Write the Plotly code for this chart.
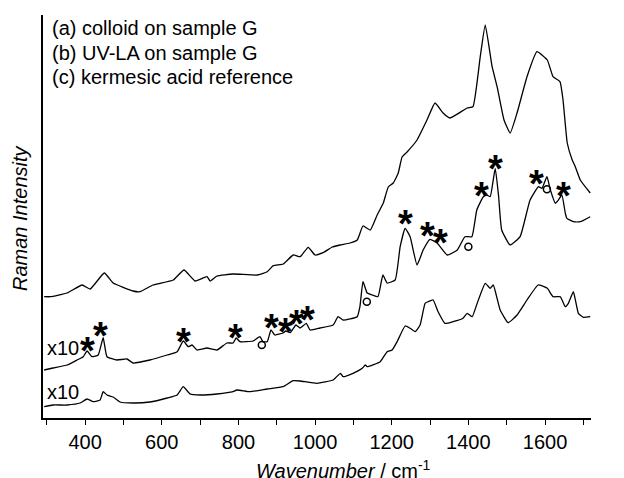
import plotly.graph_objects as go

FONT = "Liberation Sans, Arial, sans-serif"

# ---- spectrum (a): colloid on sample G ----
a_wn = [293, 309, 353, 392, 413, 450, 473, 525, 543, 577, 630, 658, 687, 718, 726, 744, 786, 849,
        875, 891, 917, 943, 961, 982, 1000, 1021, 1045, 1065, 1091, 1110, 1125, 1144, 1162, 1178,
        1191, 1204, 1217, 1227, 1240, 1266, 1292, 1313, 1334, 1352, 1397, 1412, 1431, 1444, 1462,
        1475, 1493, 1509, 1527, 1553, 1579, 1606, 1621, 1639, 1647, 1658, 1671, 1679, 1692, 1718]
a_int = [121.3, 121.3, 125, 133, 129, 145, 135, 127, 126.3, 133, 138, 148, 137, 141.3, 137, 142, 144, 143,
         146.3, 152.3, 154, 163, 161.3, 170.7, 163, 165.3, 171, 173, 175, 178, 192, 188, 203, 215,
         231, 235, 245, 261, 266, 278, 298, 315, 305, 300, 310, 311.3, 361.3, 393, 351.3,
         331.3, 298, 285, 305, 341.3, 366.3, 358, 341.3, 336.3, 318, 275, 258, 251.3, 238, 225]

# ---- spectrum (b): UV-LA on sample G (x10) ----
b_wn = [293, 316, 353, 379, 395, 405, 418, 434, 447, 457, 483, 509, 525, 569, 614, 640, 656, 669, 679,
        692, 718, 744, 770, 786, 794, 804, 838, 856, 864, 875, 885, 895, 916, 924, 935, 950, 961, 977,
        987, 1013, 1047, 1060, 1073, 1110, 1117, 1125, 1136, 1149, 1164, 1177, 1188, 1209, 1222,
        1235, 1248, 1266, 1282, 1300, 1319, 1345, 1371, 1391, 1409, 1422, 1439, 1448, 1457, 1470,
        1479, 1487, 1509, 1535, 1561, 1583, 1592, 1605, 1614, 1627, 1635, 1644, 1653, 1657, 1674,
        1692, 1718]
b_int = [48, 50, 53, 58, 61.3, 67, 61.3, 63, 80.3, 61.3, 58, 59, 55, 58, 63, 66.3, 77, 71.3, 73,
         68, 70, 68, 75, 75, 80, 76.3, 77, 81.3, 76.3, 76.3, 88, 83, 85, 87, 85.3, 93, 90, 94.7,
         88, 90, 93, 101.3, 98, 101.3, 111.3, 136.3, 125, 123, 121.3, 143, 135, 138, 171.3,
         189.7, 181.3, 153, 168, 178.7, 174.7, 163, 168, 181.3, 181.3, 208, 221.3, 223, 221.3, 249.7,
         221.3, 188, 173, 181.3, 218, 231.3, 229.7, 241.3, 228, 214.7, 218, 223, 204.7, 199.7, 196.3,
         196.3, 201.3]

# ---- spectrum (c): kermesic acid reference (x10) ----
c_wn = [293, 316, 353, 387, 405, 421, 439, 447, 457, 473, 491, 525, 569, 614, 640, 656, 674, 700,
        744, 786, 796, 830, 875, 916, 943, 961, 1005, 1047, 1066, 1073, 1099, 1123, 1131, 1136,
        1170, 1188, 1201, 1214, 1235, 1248, 1261, 1274, 1287, 1295, 1308, 1321, 1339, 1360, 1386,
        1397, 1410, 1423, 1444, 1457, 1465, 1483, 1504, 1527, 1553, 1582, 1606, 1621, 1640, 1653,
        1661, 1674, 1687, 1700, 1718]
c_int = [11.3, 13, 13, 15, 19, 16.3, 18, 26.3, 23, 21, 16, 15, 16, 20, 23, 31.3, 24, 23,
         24, 26.3, 28, 26.3, 29, 31.3, 37.3, 37, 34.7, 38, 44.7, 41.3, 44.7, 49.7, 53, 51.3,
         56.3, 66.3, 68, 76.3, 92, 89.7, 86.3, 93, 114.7, 116.3, 118, 106.3, 94.7, 96.3, 99.7,
         104.7, 101.3, 114.7, 134.7, 129.7, 133, 108, 95.3, 103, 118, 133, 129.7, 121.3, 121.3, 111.3,
         114.7, 126.3, 104.7, 100.7, 101.3]

# ---- band markers ----
star_wn = [405, 441, 656, 793, 885, 922, 951, 980, 1235, 1293, 1326, 1435, 1472, 1577, 1647]
star_int = [78, 93, 87.3, 90.7, 100.7, 97.3, 104.7, 108.7, 204.7, 193, 186.3, 233, 259.7, 244.7, 233]
circ_wn = [861, 1135, 1400, 1605]
circ_int = [73, 116.3, 171.3, 228.7]

# ---- text labels ----
legend_lines = ["(a) colloid on sample G", "(b) UV-LA on sample G", "(c) kermesic acid reference"]
legend_int = [390, 365, 341]
curve_labels = ["(a)", "(b)", "(c)"]
curve_label_int = [230, 200, 106.3]
scale_labels = ["x10", "x10"]
scale_label_int = [70, 26.3]

major_ticks = list(range(400, 1601, 200))

fig = go.Figure()
for wn, inten in [(a_wn, a_int), (b_wn, b_int), (c_wn, c_int)]:
    fig.add_trace(go.Scatter(x=wn, y=inten, mode="lines",
                             line=dict(color="black", width=1.3, shape="spline", smoothing=0.4),
                             showlegend=False, hoverinfo="skip"))

fig.add_trace(go.Scatter(x=circ_wn, y=circ_int, mode="markers", showlegend=False,
                         marker=dict(symbol="circle-open", size=7, color="black",
                                     line=dict(width=1.5, color="black"))))

annotations = []
for wn, inten in zip(star_wn, star_int):
    annotations.append(dict(x=wn, y=inten, xref="x", yref="y", text="<b>*</b>", showarrow=False,
                            xanchor="center", yanchor="middle", yshift=-11,
                            font=dict(family=FONT, size=38, color="black")))
for txt, inten in zip(legend_lines, legend_int):
    annotations.append(dict(x=308, y=inten, xref="x", yref="y", text=txt, showarrow=False,
                            xanchor="left", yanchor="middle",
                            font=dict(family=FONT, size=20, color="black")))
for txt, inten in zip(curve_labels, curve_label_int):
    annotations.append(dict(x=1735, y=inten, xref="x", yref="y", text=txt, showarrow=False,
                            xanchor="left", yanchor="middle",
                            font=dict(family=FONT, size=20, color="black")))
for txt, inten in zip(scale_labels, scale_label_int):
    annotations.append(dict(x=295, y=inten, xref="x", yref="y", text=txt, showarrow=False,
                            xanchor="left", yanchor="middle",
                            font=dict(family=FONT, size=20, color="black")))
annotations.append(dict(x=(343.5 - 43) / 548, y=-52 / 403, xref="paper", yref="paper",
                        text="<i>Wavenumber</i> / cm<sup>-1</sup>", showarrow=False,
                        xanchor="center", yanchor="middle",
                        font=dict(family=FONT, size=20, color="black")))
annotations.append(dict(x=-23 / 548, y=(418 - 218) / 403, xref="paper", yref="paper",
                        text="<i>Raman Intensity</i>", showarrow=False, textangle=-90,
                        xanchor="center", yanchor="middle",
                        font=dict(family=FONT, size=20, color="black")))

# the page body adds an 8 px margin, so the figure is 8 px smaller and the margins shifted
fig.update_layout(
    width=616, height=470,
    margin=dict(l=35, r=33, t=7, b=60),
    paper_bgcolor="white", plot_bgcolor="white",
    annotations=annotations,
    xaxis=dict(range=[290, 1720], showgrid=False, zeroline=False, showline=True,
               linecolor="black", linewidth=1.5, ticks="outside", ticklen=5, tickwidth=1.3,
               tickcolor="black", tickvals=major_ticks,
               minor=dict(ticks="outside", ticklen=5, tickwidth=1.3, tickcolor="black",
                          tick0=300, dtick=100, showgrid=False),
               tickfont=dict(family=FONT, size=20, color="black")),
    yaxis=dict(range=[0, 403], showgrid=False, zeroline=False, showline=True,
               linecolor="black", linewidth=1.5, ticks="", showticklabels=False),
)

fig.write_html("out.html")
